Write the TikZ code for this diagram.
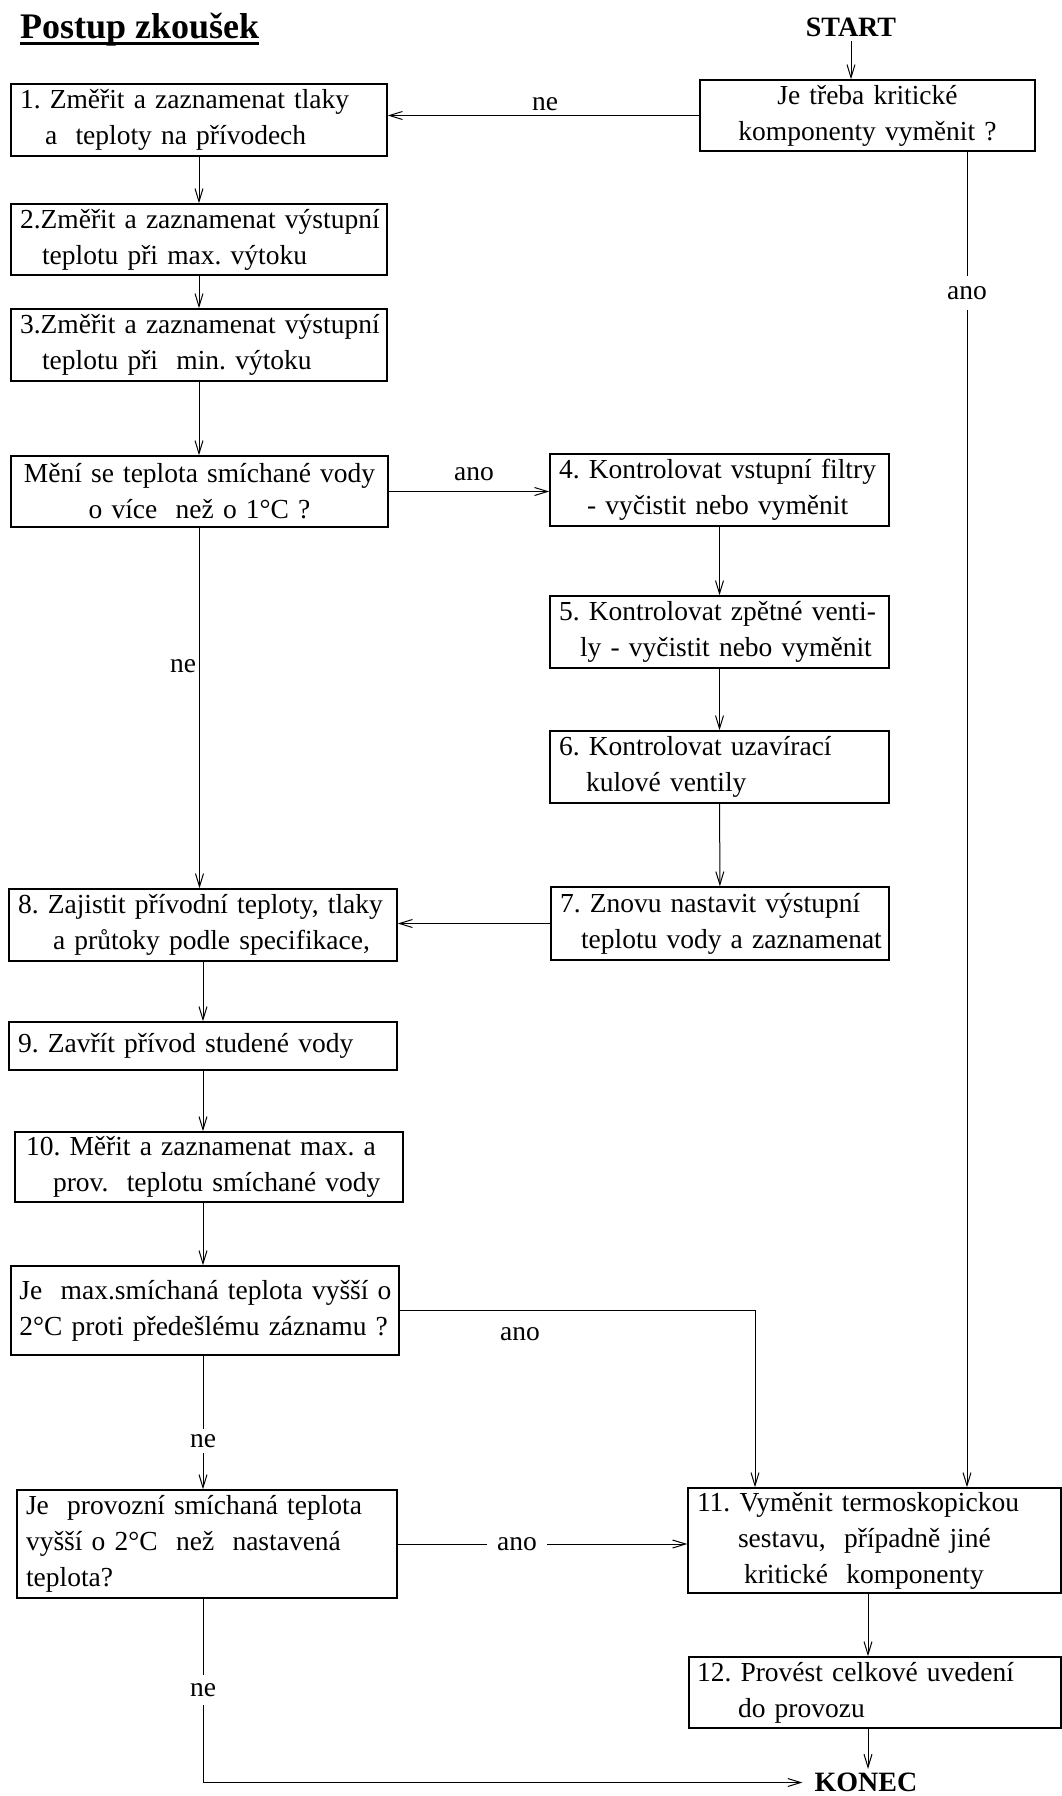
\documentclass[tikz,border=0pt]{standalone}
\usepackage{fontspec}
\setmainfont{Liberation Serif}
\usetikzlibrary{arrows.meta}
\newcommand{\bodyfont}{\fontsize{27.5}{36}\selectfont\frenchspacing}
\tikzset{
  box/.style={draw, line width=1.5pt, inner sep=0pt, font=\bodyfont, align=left},
  conn/.style={line width=1pt, -{Straight Barb[length=13pt,width=8pt,line width=1pt]}},
  lbl/.style={font=\bodyfont, inner sep=2pt},
  gap/.style={lbl, fill=white},
  term/.style={font=\fontsize{28}{34}\selectfont\bfseries, inner ysep=4pt, inner xsep=12pt},
}
\begin{document}
\begin{tikzpicture}[x=1pt,y=-1pt]
\useasboundingbox (0,0) rectangle (1061,1796);
% title
\node[anchor=base west, inner sep=0pt, font=\fontsize{36}{40}\selectfont\bfseries] (title) at (20,38) {Postup zkoušek};
\draw[line width=3pt] ([yshift=-5.5pt]title.base west) -- ([yshift=-5.5pt]title.base east);
% terminals
\node[term] (start) at (851,27.5) {START};
\node[term] (konec) at (866,1782.5) {KONEC};
% boxes
\node[box, minimum width=335pt, minimum height=71pt, text width=317pt, align=center] (q0) at (867.5,115.5)
  {\mbox{Je třeba kritické}\\\mbox{komponenty vyměnit ?}};
\node[box, minimum width=376pt, minimum height=72pt, text width=358pt] (b1) at (199,120)
  {\mbox{1. Změřit a zaznamenat tlaky}\\\hspace*{25pt}\mbox{a\ \ teploty na přívodech}};
\node[box, minimum width=376pt, minimum height=71pt, text width=358pt] (b2) at (199,239.5)
  {\mbox{2.Změřit a zaznamenat výstupní}\\\hspace*{22pt}\mbox{teplotu při max. výtoku}};
\node[box, minimum width=376pt, minimum height=72pt, text width=358pt] (b3) at (199,345)
  {\mbox{3.Změřit a zaznamenat výstupní}\\\hspace*{22pt}\mbox{teplotu při\ \ min. výtoku}};
\node[box, minimum width=377pt, minimum height=71pt, text width=359pt, align=center] (q1) at (199.5,491.5)
  {\mbox{Mění se teplota smíchané vody}\\\mbox{o více\ \ než o 1°C ?}};
\node[box, minimum width=339pt, minimum height=72pt, text width=321pt] (b4) at (719.5,490)
  {\mbox{4. Kontrolovat vstupní filtry}\\\hspace*{28pt}\mbox{- vyčistit nebo vyměnit}};
\node[box, minimum width=339pt, minimum height=72pt, text width=321pt] (b5) at (719.5,632)
  {\mbox{5. Kontrolovat zpětné venti-}\\\hspace*{21pt}\mbox{ly - vyčistit nebo vyměnit}};
\node[box, minimum width=339pt, minimum height=72pt, text width=321pt] (b6) at (719.5,767)
  {\mbox{6. Kontrolovat uzavírací}\\\hspace*{27pt}\mbox{kulové ventily}};
\node[box, minimum width=338pt, minimum height=73pt, text width=320pt] (b7) at (720,923.5)
  {\mbox{7. Znovu nastavit výstupní}\\\hspace*{21pt}\mbox{teplotu vody a zaznamenat}};
\node[box, minimum width=388pt, minimum height=72pt, text width=370pt] (b8) at (203,925)
  {\mbox{8. Zajistit přívodní teploty, tlaky}\\\hspace*{35pt}\mbox{a průtoky podle specifikace,}};
\node[box, minimum width=388pt, minimum height=48pt, text width=370pt] (b9) at (203,1046)
  {\mbox{9. Zavřít přívod studené vody}};
\node[box, minimum width=388pt, minimum height=70pt, text width=366pt] (b10) at (209,1167)
  {\mbox{10. Měřit a zaznamenat max. a}\\\hspace*{27pt}\mbox{prov.\ \ teplotu smíchané vody}};
\node[box, minimum width=388pt, minimum height=89pt, text width=371pt] (q2) at (205,1310.5)
  {\mbox{Je\ \ max.smíchaná teplota vyšší o}\\\mbox{2°C proti předešlému záznamu ?}};
\node[box, minimum width=380pt, minimum height=108pt, text width=362pt] (q3) at (207,1544)
  {\mbox{Je\ \ provozní smíchaná teplota}\\\mbox{vyšší o 2°C\ \ než\ \ nastavená}\\\mbox{teplota?}};
\node[box, minimum width=373pt, minimum height=105pt, text width=355pt] (b11) at (874.5,1540.5)
  {\mbox{11. Vyměnit termoskopickou}\\\hspace*{41pt}\mbox{sestavu,\ \ případně jiné}\\\hspace*{47pt}\mbox{kritické\ \ komponenty}};
\node[box, minimum width=372pt, minimum height=71pt, text width=356pt] (b12) at (875,1692.5)
  {\mbox{12. Provést celkové uvedení}\\\hspace*{41pt}\mbox{do provozu}};
% helper columns
\coordinate (lc) at (203,0);
\coordinate (rx) at (967,0);
\coordinate (ax) at (755,0);
\coordinate (kx) at (868,0);
% connectors
\draw[conn] (start.south) -- (start.south |- q0.north);
\draw[conn] (q0.west) -- (q0.west -| b1.east);
\draw[conn] (b1) -- (b2);
\draw[conn] (b2) -- (b3);
\draw[conn] (b3.south) -- (b3.south |- q1.north);
\draw[conn] (q1.east) -- (q1.east -| b4.west);
\draw[conn] (b4) -- (b5);
\draw[conn] (b5) -- (b6);
\draw[conn] (b6) -- (b7);
\draw[conn] (b7.west) -- (b7.west -| b8.east);
\draw[conn] (q1.south) -- (q1.south |- b8.north);
\draw[conn] (b8) -- (b9);
\draw[conn] (b9.south) -- (b9.south |- b10.north);
\draw[conn] (b10.south -| lc) -- (q2.north -| lc);
\draw[conn] (q2.south -| lc) -- (q3.north -| lc);
\draw[conn] (q2.east) -- (q2.east -| ax) -- (b11.north -| ax);
\draw[conn] (q3.east) -- (q3.east -| b11.west);
\draw[conn] (q0.south -| rx) -- (b11.north -| rx);
\draw[conn] (b11.south -| kx) -- (b12.north -| kx);
\draw[conn] (b12.south -| kx) -- (konec.north -| kx);
\draw[conn] (q3.south -| lc) -- (lc |- konec.west) -- (konec.west);
% labels
\node[lbl] (ne1) at (545,104) {ne};
\node[gap, inner ysep=10pt] (ano1) at (967,293) {ano};
\node[lbl] (ano2) at (474,474) {ano};
\node[lbl] (ne2) at (183,666) {ne};
\node[lbl] (ano3) at (520,1334) {ano};
\node[gap, inner ysep=5pt] (ne3) at (203,1441) {ne};
\node[gap, inner xsep=10pt] (ano4) at (517,1544) {ano};
\node[gap, inner ysep=8pt] (ne4) at (203,1690) {ne};
\end{tikzpicture}
\end{document}
